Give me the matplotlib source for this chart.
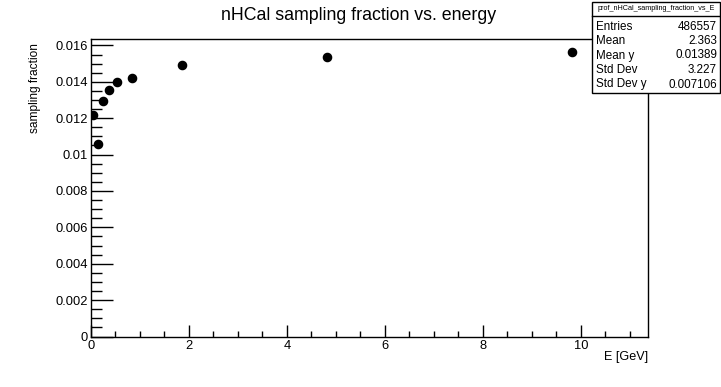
import matplotlib
matplotlib.use('Agg')
import matplotlib.pyplot as plt
from matplotlib.ticker import MultipleLocator

plt.rcParams['font.family'] = ['Liberation Sans', 'DejaVu Sans']

# profile points
energy = [0.04, 0.15, 0.25, 0.36, 0.54, 0.84, 1.85, 4.81, 9.81]
frac = [0.01215, 0.01057, 0.01292, 0.01357, 0.01400, 0.01421, 0.01495, 0.01536, 0.01563]

stats_title = 'prof_nHCal_sampling_fraction_vs_E'
stats_names = ['Entries', 'Mean', 'Mean y', 'Std Dev', 'Std Dev y']
stats_values = ['486557', '2.363', '0.01389', '3.227', '0.007106']

W, H = 721, 387
fig = plt.figure(figsize=(W / 100, H / 100), dpi=100)

# frame in pixels: left 91, right 648, top 38.5, bottom 336.5
x0, x1, y0, y1 = 91, 648, 38.5, 336.5
ax = fig.add_axes([x0 / W, 1 - y1 / H, (x1 - x0) / W, (y1 - y0) / H])

ax.plot(energy, frac, 'o', color='black', markersize=5.9)

ax.set_xlim(0, 11.37)
ax.set_ylim(0, 0.01638)

ax.xaxis.set_major_locator(MultipleLocator(2))
ax.xaxis.set_minor_locator(MultipleLocator(0.5))
ax.yaxis.set_major_locator(MultipleLocator(0.002))
ax.yaxis.set_minor_locator(MultipleLocator(0.0005))

def yfmt(v, pos):
    if abs(v) < 1e-12:
        return '0'
    return ('%.3f' % v).rstrip('0')

ax.yaxis.set_major_formatter(plt.FuncFormatter(yfmt))
ax.xaxis.set_major_formatter(plt.FuncFormatter(lambda v, p: '%g' % v))

ax.tick_params(axis='x', which='major', direction='in', length=9, width=1,
               labelsize=9.3, pad=2.5, top=False)
ax.tick_params(axis='x', which='minor', direction='in', length=4.5, width=1, top=False)
ax.tick_params(axis='y', which='major', direction='in', length=16, width=1,
               labelsize=9.3, pad=2.5, right=False)
ax.tick_params(axis='y', which='minor', direction='in', length=8, width=1, right=False)
for s in ax.spines.values():
    s.set_linewidth(1)

fig.text(x1 / W, 1 - 357 / H, 'E [GeV]', ha='right', va='center', fontsize=9.1)
fig.text(35 / W, 1 - 43 / H, 'sampling fraction', ha='center', va='top',
         rotation=90, fontsize=8.6)

fig.text(0.5 * (221 + 496) / W, 1 - 16 / H, 'nHCal sampling fraction vs. energy',
         ha='center', va='center', fontsize=12.8)

# stats box
bx0, bx1, by0, by1 = 592, 720, 2, 93
box = plt.Rectangle((bx0 / W, 1 - by1 / H), (bx1 - bx0) / W, (by1 - by0) / H,
                    transform=fig.transFigure, facecolor='white',
                    edgecolor='black', linewidth=1, zorder=5)
fig.add_artist(box)
sep = 15.5
fig.add_artist(plt.Line2D([bx0 / W, bx1 / W], [1 - sep / H, 1 - sep / H],
                          transform=fig.transFigure, color='black', linewidth=1, zorder=6))
fig.text((bx0 + bx1) / 2 / W, 1 - 8.5 / H, stats_title, ha='center', va='center',
         fontsize=5.2, zorder=7)
for i, (name, val) in enumerate(zip(stats_names, stats_values)):
    yc = 26.5 + 14.5 * i
    fig.text((bx0 + 4) / W, 1 - yc / H, name, ha='left', va='center', fontsize=8.4, zorder=7)
    fig.text((bx1 - 3) / W, 1 - yc / H, val, ha='right', va='center', fontsize=8.4, zorder=7)

fig.savefig('out.png', dpi=100)
